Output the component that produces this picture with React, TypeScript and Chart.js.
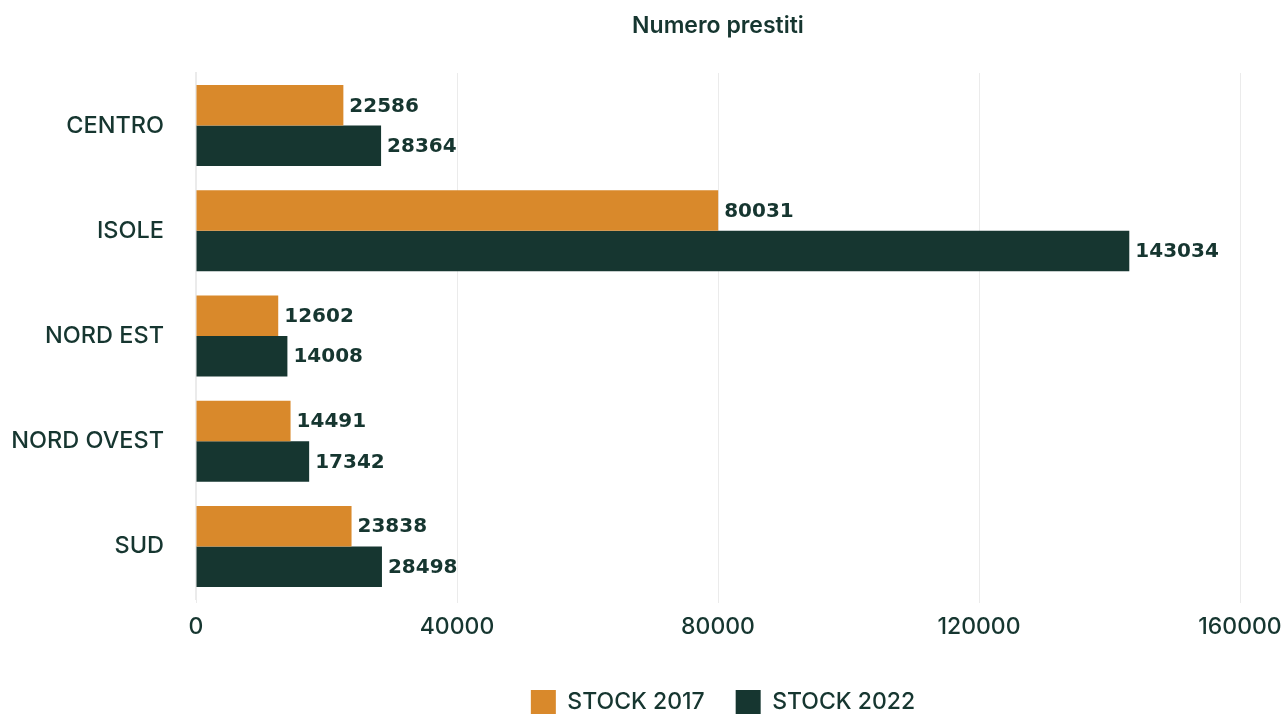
import React, { useEffect, useRef } from "react";
import { Chart, registerables } from "chart.js";

Chart.register(...registerables);

const categories = ["CENTRO", "ISOLE", "NORD EST", "NORD OVEST", "SUD"];
const stock2017 = [22586, 80031, 12602, 14491, 23838];
const stock2022 = [28364, 143034, 14008, 17342, 28498];
const xTicks = [0, 40000, 80000, 120000, 160000];
const titleText = "Numero prestiti";

const ORANGE = "#D9892B";
const GREEN = "#163630";
const TEXT = "#163630";

const valueLabels = {
  id: "valueLabels",
  afterDatasetsDraw(chart: any) {
    const ctx = chart.ctx;
    ctx.save();
    ctx.font = "bold 20px 'DejaVu Sans'";
    ctx.fillStyle = TEXT;
    ctx.textAlign = "left";
    ctx.textBaseline = "middle";
    chart.data.datasets.forEach((ds: any, i: number) => {
      const meta = chart.getDatasetMeta(i);
      meta.data.forEach((bar: any, j: number) => {
        ctx.fillText(String(ds.data[j]), bar.x + 6, bar.y + 1);
      });
    });
    ctx.restore();
  },
};

const areaTitle = {
  id: "areaTitle",
  afterLayout(chart: any) {
    if (chart.legend) {
      chart.legend.left = chart.chartArea.left + 10;
      chart.legend.right = chart.chartArea.right;
    }
  },
  afterDraw(chart: any) {
    const ctx = chart.ctx;
    const { left, right } = chart.chartArea;
    ctx.save();
    ctx.font = "600 23px Inter";
    ctx.fillStyle = TEXT;
    ctx.textAlign = "center";
    ctx.textBaseline = "middle";
    ctx.fillText(titleText, (left + right) / 2, 26);
    ctx.restore();
  },
};

export default function App() {
  const ref = useRef<HTMLCanvasElement>(null);
  useEffect(() => {
    if (!ref.current) return;
    const chart = new Chart(ref.current, {
      type: "bar",
      data: {
        labels: categories,
        datasets: [
          { label: "STOCK 2017", data: stock2017, backgroundColor: ORANGE },
          { label: "STOCK 2022", data: stock2022, backgroundColor: GREEN },
        ],
      },
      plugins: [valueLabels, areaTitle],
      options: {
        indexAxis: "y",
        animation: false,
        responsive: true,
        maintainAspectRatio: false,
        categoryPercentage: 0.77,
        barPercentage: 1.0,
        layout: { padding: { top: 73, right: 0, left: 10, bottom: -11 } },
        scales: {
          x: {
            min: 0,
            max: 160000,
            afterBuildTicks: (axis: any) => {
              axis.ticks = xTicks.map((v) => ({ value: v }));
            },
            afterFit: (axis: any) => {
              axis.height = 60;
              axis.paddingRight = 45;
              axis.paddingLeft = 0;
            },
            grid: { color: "#EBEBEB", drawTicks: true, tickLength: 4, lineWidth: 1 },
            border: { display: false },
            ticks: {
              color: TEXT,
              font: { family: "Inter", size: 23, weight: "500" },
              padding: 10,
              maxRotation: 0,
              callback: (v: any) => String(v),
            },
          },
          y: {
            afterFit: (axis: any) => {
              axis.width = 186;
            },
            grid: { display: false, drawTicks: false },
            border: { display: true, color: "#EBEBEB", width: 2 },
            ticks: {
              color: TEXT,
              font: { family: "Inter", size: 23.5, weight: "500" },
              padding: 32,
            },
          },
        },
        plugins: {
          title: { display: false },
          legend: {
            position: "bottom",
            labels: {
              color: TEXT,
              font: { family: "Inter", size: 23, weight: "500" },
              boxWidth: 25,
              boxHeight: 25,
              padding: 31,
            },
          },
          tooltip: { enabled: false },
        },
      },
    } as any);
    return () => chart.destroy();
  }, []);
  return (
    <div style={{ position: "fixed", left: 0, top: 0, width: 1285, height: 714, background: "#fff", overflow: "hidden" }}>
      <canvas ref={ref} />
    </div>
  );
}
